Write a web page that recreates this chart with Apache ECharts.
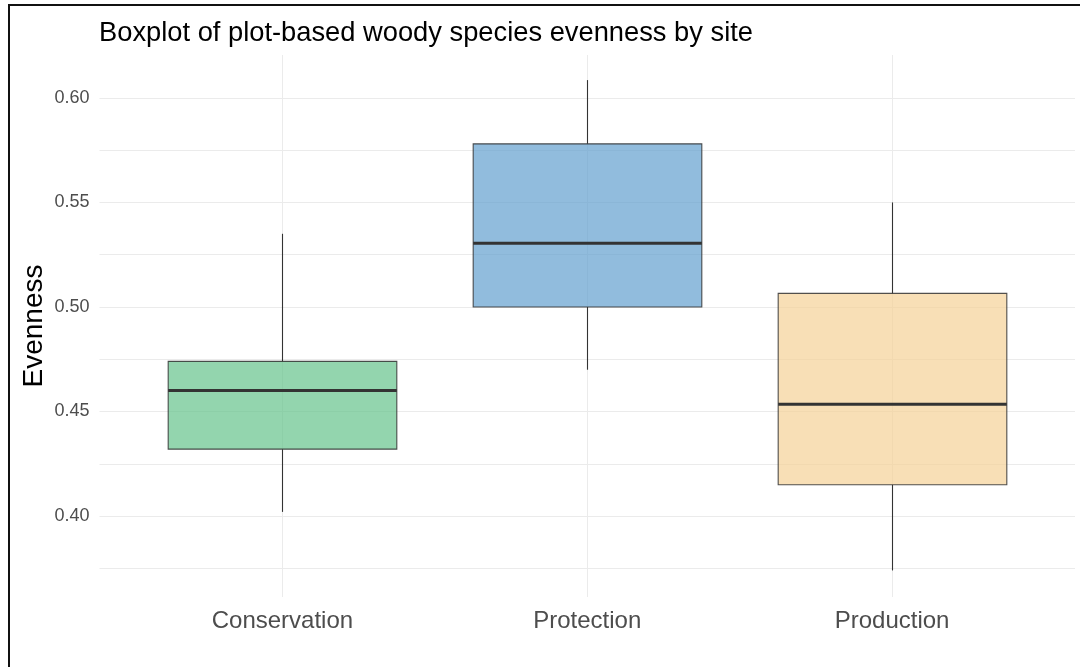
<!DOCTYPE html>
<html>
<head>
<meta charset="utf-8">
<style>
  html, body { margin: 0; padding: 0; background: #ffffff; }
  #chart { width: 1080px; height: 667px; }
</style>
<script src="https://cdn.jsdelivr.net/npm/echarts@6/dist/echarts.min.js"></script>
</head>
<body>
<div id="chart"></div>
<script>
// ---- data ----
const sites = ['Conservation', 'Protection', 'Production'];
const whiskerLow  = [0.402, 0.470, 0.374];
const q1          = [0.432, 0.500, 0.415];
const median      = [0.460, 0.5305, 0.4535];
const q3          = [0.474, 0.578, 0.5065];
const whiskerHigh = [0.535, 0.6085, 0.550];
const yLabelTicks = [0.40, 0.45, 0.50, 0.55, 0.60];
const yGridTicks  = [0.375, 0.40, 0.425, 0.45, 0.475, 0.50, 0.525, 0.55, 0.575, 0.60];
const fills = ['rgba(101,195,139,0.7)', 'rgba(98,159,206,0.7)', 'rgba(245,209,151,0.7)'];

const boxData = sites.map((s, i) => [i, whiskerLow[i], q1[i], median[i], q3[i], whiskerHigh[i]]);
const FONT = '"Liberation Sans", Arial, sans-serif';

const chart = echarts.init(document.getElementById('chart'), null, { renderer: 'canvas' });
chart.setOption({
  animation: false,
  backgroundColor: '#ffffff',
  title: {
    text: 'Boxplot of plot-based woody species evenness by site',
    left: 94, top: 15,
    textStyle: { fontFamily: FONT, fontSize: 27.3, fontWeight: 'normal', color: '#000000' }
  },
  grid: { left: 99.5, right: 5, top: 55, bottom: 70, containLabel: false },
  xAxis: {
    type: 'value', min: -0.6, max: 2.6,
    axisLine: { show: false },
    axisTick: { show: false, customValues: [0, 1, 2] },
    axisLabel: {
      customValues: [0, 1, 2],
      formatter: v => sites[Math.round(v)],
      fontFamily: FONT, fontSize: 24, color: '#4D4D4D', margin: 12
    },
    splitLine: { show: true, lineStyle: { color: '#EBEBEB', width: 1 } }
  },
  yAxis: {
    type: 'value', min: 0.3613, max: 0.6205,
    name: 'Evenness', nameLocation: 'middle', nameRotate: 90, nameGap: 51,
    nameMoveOverlap: false,
    nameTextStyle: { fontFamily: FONT, fontSize: 28, color: '#000000' },
    axisLine: { show: false },
    axisTick: { show: false, customValues: yGridTicks },
    axisLabel: {
      customValues: yLabelTicks,
      formatter: v => v.toFixed(2),
      fontFamily: FONT, fontSize: 18, color: '#4D4D4D', margin: 10
    },
    splitLine: { show: true, lineStyle: { color: '#EBEBEB', width: 1 } }
  },
  graphic: [
    { type: 'rect', shape: { x: 8, y: 4, width: 1072, height: 2 }, style: { fill: '#111' }, z: 100 },
    { type: 'rect', shape: { x: 8, y: 4, width: 2, height: 663 }, style: { fill: '#111' }, z: 100 }
  ],
  series: [{
    type: 'custom',
    data: boxData,
    encode: { x: 0, y: [1, 2, 3, 4, 5] },
    renderItem: function (params, api) {
      const x = api.value(0);
      const idx = params.dataIndex;
      const pLow = api.coord([x, api.value(1)]);
      const pQ1 = api.coord([x, api.value(2)]);
      const pMed = api.coord([x, api.value(3)]);
      const pQ3 = api.coord([x, api.value(4)]);
      const pHigh = api.coord([x, api.value(5)]);
      const half = api.size([0.75, 0])[0] / 2;
      const cx = Math.round(pQ1[0]) + 0.5;
      const lineCol = '#333333';
      return {
        type: 'group',
        children: [
          { type: 'line', shape: { x1: cx, y1: pHigh[1], x2: cx, y2: pQ3[1] }, style: { stroke: lineCol, lineWidth: 1.1 } },
          { type: 'line', shape: { x1: cx, y1: pQ1[1], x2: cx, y2: pLow[1] }, style: { stroke: lineCol, lineWidth: 1.1 } },
          { type: 'rect', shape: { x: cx - half, y: pQ3[1], width: half * 2, height: pQ1[1] - pQ3[1] },
            style: { fill: fills[idx], stroke: 'rgba(51,51,51,0.85)', lineWidth: 1.1 } },
          { type: 'line', shape: { x1: cx - half, y1: pMed[1], x2: cx + half, y2: pMed[1] }, style: { stroke: lineCol, lineWidth: 3 } }
        ]
      };
    }
  }]
});
</script>
</body>
</html>
